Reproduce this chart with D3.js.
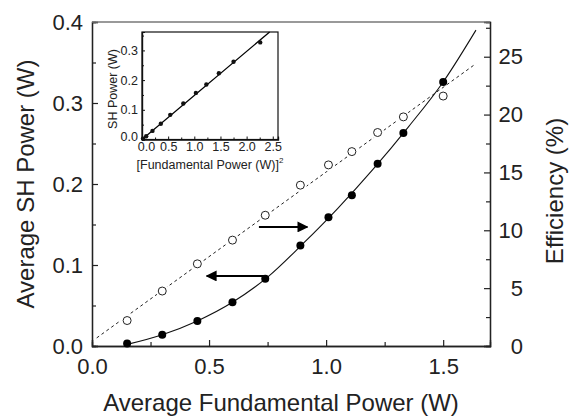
<!DOCTYPE html>
<html>
<head>
<meta charset="utf-8">
<script src="https://cdn.jsdelivr.net/npm/d3@7"></script>
<style>
  body { margin: 0; background: #fff; }
  svg text { font-family: "Liberation Sans", Arial, sans-serif; fill: #222; }
</style>
</head>
<body>
<div id="chart"></div>
<script>
// data
const fundPower = [0.15, 0.30, 0.45, 0.60, 0.74, 0.89, 1.01, 1.11, 1.22, 1.33, 1.50];
const shPower = [0.003, 0.014, 0.031, 0.054, 0.083, 0.124, 0.159, 0.186, 0.225, 0.263, 0.326];
const efficiency = [2.2, 4.75, 7.1, 9.15, 11.3, 13.9, 15.65, 16.8, 18.45, 19.8, 21.6];

// fitted curves
const fitX = [0.15, 0.30, 0.45, 0.60, 0.75, 0.90, 1.05, 1.20, 1.35, 1.50, 1.64];
const fitSH = [0.002, 0.014, 0.031, 0.054, 0.085, 0.126, 0.170, 0.218, 0.270, 0.326, 0.390];
const effFitX = [0.02, 1.64];
const effFit = [0.7, 24.4];

// inset: SH power vs squared fundamental power
const insetX = [0.02, 0.08, 0.20, 0.36, 0.54, 0.79, 1.03, 1.23, 1.47, 1.75, 2.26];
const insetY = [0.003, 0.011, 0.029, 0.053, 0.083, 0.121, 0.157, 0.185, 0.223, 0.262, 0.327];
const insetFitX = [0, 2.44];
const insetFitY = [0, 0.362];

// arrows (data units, left axis)
const arrowLeft = { x1: 0.745, x2: 0.49, y: 0.0865 };
const arrowRight = { x1: 0.713, x2: 0.92, y: 0.147 };

const xTicks = [0.0, 0.5, 1.0, 1.5];
const yTicks = [0.0, 0.1, 0.2, 0.3, 0.4];
const rTicks = [0, 5, 10, 15, 20, 25];

// 1: SVG
const W = 572, H = 417;
const margin = { top: 22, right: 82, bottom: 71, left: 92 },
      width = W - margin.left - margin.right,
      height = H - margin.top - margin.bottom;

const svg = d3.select("#chart").append("svg")
    .attr("width", W).attr("height", H);

svg.append("defs").append("marker")
    .attr("id", "head")
    .attr("viewBox", "0 0 10 10")
    .attr("refX", 9).attr("refY", 5)
    .attr("markerWidth", 5.5).attr("markerHeight", 5.5)
    .attr("markerUnits", "strokeWidth")
    .attr("orient", "auto")
    .append("path").attr("d", "M0,0 L10,5 L0,10 Z").attr("fill", "#000");

const g = svg.append("g").attr("transform", `translate(${margin.left},${margin.top})`);

// 2: scales
const x = d3.scaleLinear().domain([0, 1.7]).range([0, width]);
const y = d3.scaleLinear().domain([0, 0.4]).range([height, 0]);
const yR = d3.scaleLinear().domain([0, 28]).range([height, 0]);

// 3: axes
const fmt1 = d3.format(".1f");
g.append("g").attr("transform", `translate(0,${height})`)
    .call(d3.axisBottom(x).tickValues(xTicks).tickFormat(fmt1).tickSize(-6).tickPadding(12));
g.append("g").attr("transform", `translate(0,${height})`)
    .call(d3.axisBottom(x).tickValues([0.25, 0.75, 1.25]).tickFormat("").tickSize(-4));

g.append("g")
    .call(d3.axisLeft(y).tickValues(yTicks).tickFormat(fmt1).tickSize(-6).tickPadding(9));
g.append("g")
    .call(d3.axisLeft(y).tickValues([0.05, 0.15, 0.25, 0.35]).tickFormat("").tickSize(-4));

const rAxis = g.append("g").attr("transform", `translate(${width},0)`)
    .call(d3.axisRight(yR).tickValues(rTicks).tickSize(-6).tickPadding(33));
rAxis.selectAll("text").attr("text-anchor", "end");
g.append("g").attr("transform", `translate(${width},0)`)
    .call(d3.axisRight(yR).tickValues([2.5, 7.5, 12.5, 17.5, 22.5, 27.5]).tickFormat("").tickSize(-4));

g.selectAll(".domain").attr("stroke", "#222").attr("stroke-width", 1.3);
g.selectAll(".tick line").attr("stroke", "#222").attr("stroke-width", 1.2);
g.selectAll(".tick text").style("font-size", "22px").attr("fill", "#222");

// top border
g.append("line")
    .attr("x1", 0).attr("x2", width).attr("y1", 0).attr("y2", 0)
    .attr("stroke", "#777").attr("stroke-width", 1.3);

// 4: lines
const curve = d3.line()
    .x(d => x(d[0])).y(d => y(d[1]))
    .curve(d3.curveMonotoneX);
g.append("path")
    .datum(fitX.map((v, i) => [v, fitSH[i]]))
    .attr("d", curve)
    .attr("fill", "none").attr("stroke", "#111").attr("stroke-width", 1.1);

const effLine = d3.line().x(d => x(d[0])).y(d => yR(d[1]));
g.append("path")
    .datum(effFitX.map((v, i) => [v, effFit[i]]))
    .attr("d", effLine)
    .attr("fill", "none").attr("stroke", "#222").attr("stroke-width", 1)
    .attr("stroke-dasharray", "3,3");

// 5: points
// open circles (efficiency) with white gap round them
g.selectAll(".effgap")
    .data(fundPower).enter().append("circle")
    .attr("cx", d => x(d))
    .attr("cy", (d, i) => yR(efficiency[i]))
    .attr("r", 6.5).attr("fill", "#fff");
g.selectAll(".eff")
    .data(fundPower).enter().append("circle")
    .attr("cx", d => x(d))
    .attr("cy", (d, i) => yR(efficiency[i]))
    .attr("r", 4).attr("fill", "#fff")
    .attr("stroke", "#222").attr("stroke-width", 1);

g.selectAll(".sh")
    .data(fundPower).enter().append("circle")
    .attr("cx", d => x(d))
    .attr("cy", (d, i) => y(shPower[i]))
    .attr("r", 4).attr("fill", "#000");

// 6: arrows
[arrowLeft, arrowRight].forEach(a => {
    g.append("line")
        .attr("x1", x(a.x1)).attr("x2", x(a.x2))
        .attr("y1", y(a.y)).attr("y2", y(a.y))
        .attr("stroke", "#000").attr("stroke-width", 2)
        .attr("marker-end", "url(#head)");
});

// 7: axis labels
svg.append("text")
    .attr("x", margin.left + width / 2 - 10)
    .attr("y", 411)
    .attr("text-anchor", "middle")
    .style("font-size", "24px")
    .text("Average Fundamental Power (W)");

svg.append("text")
    .attr("transform", "rotate(-90)")
    .attr("x", -(margin.top + height / 2))
    .attr("y", 34)
    .attr("text-anchor", "middle")
    .style("font-size", "24px")
    .text("Average SH Power (W)");

svg.append("text")
    .attr("transform", "rotate(-90)")
    .attr("x", -191)
    .attr("y", 563)
    .attr("text-anchor", "middle")
    .style("font-size", "24px")
    .text("Efficiency (%)");

// 8: inset
const ins = { left: 142, top: 32, right: 278, bottom: 139.5 };
const gi = svg.append("g").attr("transform", `translate(${ins.left},${ins.top})`);
const iw = ins.right - ins.left, ih = ins.bottom - ins.top;
const xi = d3.scaleLinear().domain([0, 2.6]).range([0, iw]);
const yi = d3.scaleLinear().domain([0, 0.362]).range([ih, 0]);

gi.append("rect").attr("width", iw).attr("height", ih)
    .attr("fill", "#fff").attr("stroke", "#111").attr("stroke-width", 1.2);

const ixAxis = gi.append("g").attr("transform", `translate(0,${ih})`)
    .call(d3.axisBottom(xi).tickValues([0, 0.5, 1.0, 1.5, 2.0, 2.5]).tickFormat(fmt1).tickSize(-3).tickPadding(3));
gi.append("g").attr("transform", `translate(0,${ih})`)
    .call(d3.axisBottom(xi).tickValues([0.25, 0.75, 1.25, 1.75, 2.25]).tickFormat("").tickSize(-2));
const iyAxis = gi.append("g")
    .call(d3.axisLeft(yi).tickValues([0, 0.1, 0.2, 0.3]).tickFormat(fmt1).tickSize(-3).tickPadding(4));
gi.append("g")
    .call(d3.axisLeft(yi).tickValues([0.05, 0.15, 0.25, 0.35]).tickFormat("").tickSize(-2));
gi.selectAll(".domain").attr("stroke", "#111").attr("stroke-width", 1.2);
gi.selectAll(".tick line").attr("stroke", "#111");
gi.selectAll(".tick text").style("font-size", "12.5px").attr("fill", "#222");
// the two "0.0" labels meet in the corner; nudge them apart a little
ixAxis.selectAll(".tick text").filter(d => d === 0).attr("dx", 4);
iyAxis.selectAll(".tick text").filter(d => d === 0).attr("dy", "0.1em");

gi.append("path")
    .datum(insetFitX.map((v, i) => [v, insetFitY[i]]))
    .attr("d", d3.line().x(d => xi(d[0])).y(d => yi(d[1])))
    .attr("fill", "none").attr("stroke", "#000").attr("stroke-width", 1.3);

gi.selectAll(".ipt")
    .data(insetX).enter().append("circle")
    .attr("cx", d => xi(d))
    .attr("cy", (d, i) => yi(insetY[i]))
    .attr("r", 2.2).attr("fill", "#111");

const it = svg.append("text")
    .attr("x", ins.left + iw / 2)
    .attr("y", 169)
    .attr("text-anchor", "middle")
    .style("font-size", "12.5px");
it.append("tspan").text("[Fundamental Power (W)]");
it.append("tspan").attr("dy", -6).style("font-size", "8px").text("2");

svg.append("text")
    .attr("transform", "rotate(-90)")
    .attr("x", -89)
    .attr("y", 117)
    .attr("text-anchor", "middle")
    .style("font-size", "12.5px")
    .text("SH Power (W)");
</script>
</body>
</html>
